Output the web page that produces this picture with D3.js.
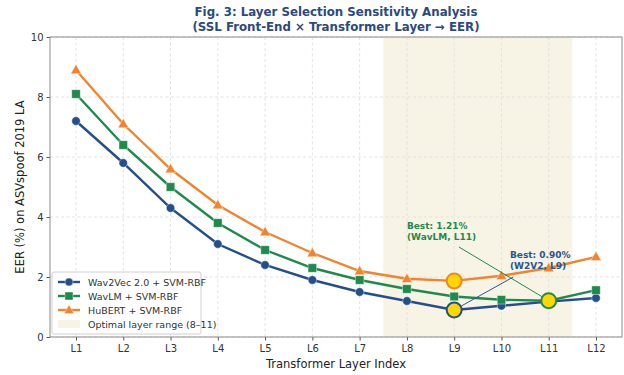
<!DOCTYPE html>
<html>
<head>
<meta charset="utf-8">
<script src="https://cdn.jsdelivr.net/npm/d3@7"></script>
<style>
  body { margin: 0; background: #fff; }
  svg { font-family: "DejaVu Sans", sans-serif; }
</style>
</head>
<body>
<svg id="chart" width="624" height="375"></svg>
<script>
// data
const layers = ['L1', 'L2', 'L3', 'L4', 'L5', 'L6', 'L7', 'L8', 'L9', 'L10', 'L11', 'L12'];
const wav2vec = [7.2, 5.8, 4.3, 3.1, 2.4, 1.9, 1.5, 1.2, 0.9, 1.04, 1.18, 1.3];
const wavlm = [8.1, 6.4, 5.0, 3.8, 2.9, 2.3, 1.9, 1.6, 1.35, 1.24, 1.21, 1.56];
const hubert = [8.9, 7.1, 5.6, 4.4, 3.5, 2.8, 2.2, 1.94, 1.87, 2.04, 2.3, 2.67];
const yTicks = [0, 2, 4, 6, 8, 10];
const optimalRange = [7.5, 11.5];

const series = [
  { name: 'Wav2Vec 2.0 + SVM-RBF', values: wav2vec, color: '#244f8c', marker: 'circle' },
  { name: 'WavLM + SVM-RBF', values: wavlm, color: '#1e8a4c', marker: 'square' },
  { name: 'HuBERT + SVM-RBF', values: hubert, color: '#f0852d', marker: 'triangle' }
];

// annotations: text anchor and line start in data units
const notes = [
  { lines: ['Best: 1.21%', '(WavLM, L11)'], color: '#1e8a4c', tx: 8.0, ty: 3.6, lx: 9.1, ly: 3.0, px: 11, py: 1.21 },
  { lines: ['Best: 0.90%', '(W2V2, L9)'], color: '#2a5590', tx: 10.18, ty: 2.65, lx: 10.25, ly: 2.0, px: 9, py: 0.9 }
];

const shade = '#f8f4e5';

const svg = d3.select('#chart');
const margin = { top: 37, right: 2, bottom: 38, left: 50 };
const width = 624 - margin.left - margin.right;
const height = 375 - margin.top - margin.bottom;

const x = d3.scaleLinear().domain([0.45, 12.55]).range([0, width]);
const y = d3.scaleLinear().domain([0, 10]).range([height, 0]);

const g = svg.append('g').attr('transform', `translate(${margin.left},${margin.top})`);

// shaded optimal range
g.append('rect')
  .attr('x', x(optimalRange[0]))
  .attr('y', 0)
  .attr('width', x(optimalRange[1]) - x(optimalRange[0]))
  .attr('height', height)
  .attr('fill', shade);

// grid
g.append('g')
  .selectAll('line')
  .data(layers)
  .join('line')
  .attr('x1', (d, i) => x(i + 1))
  .attr('x2', (d, i) => x(i + 1))
  .attr('y1', 0)
  .attr('y2', height)
  .attr('stroke', '#dcdcdc')
  .attr('stroke-width', 0.8)
  .attr('stroke-dasharray', '3,2.5');

g.append('g')
  .selectAll('line')
  .data(yTicks)
  .join('line')
  .attr('x1', 0)
  .attr('x2', width)
  .attr('y1', d => y(d))
  .attr('y2', d => y(d))
  .attr('stroke', '#dcdcdc')
  .attr('stroke-width', 0.8)
  .attr('stroke-dasharray', '3,2.5');

// axes
const xAxis = g.append('g')
  .attr('transform', `translate(0,${height})`)
  .call(d3.axisBottom(x).tickValues(d3.range(1, 13)).tickFormat(d => layers[d - 1]).tickSize(3.5).tickPadding(4));

const yAxis = g.append('g')
  .call(d3.axisLeft(y).tickValues(yTicks).tickSize(3.5).tickPadding(3));

[xAxis, yAxis].forEach(a => {
  a.select('.domain').remove();
  a.selectAll('line').attr('stroke', '#555');
  a.selectAll('text').attr('fill', '#333').attr('font-size', 10).attr('font-family', '"DejaVu Sans", sans-serif');
});

// frame
g.append('rect')
  .attr('width', width)
  .attr('height', height)
  .attr('fill', 'none')
  .attr('stroke', '#8a8a8a')
  .attr('stroke-width', 1);

// series lines and markers
const line = d3.line().x((d, i) => x(i + 1)).y(d => y(d));

function drawMarker(sel, type, color, size) {
  if (type === 'circle') {
    sel.append('circle').attr('r', size / 2);
  } else if (type === 'square') {
    sel.append('rect').attr('x', -size / 2).attr('y', -size / 2).attr('width', size).attr('height', size);
  } else {
    const s = size * 0.62;
    sel.append('path').attr('d', `M0,${-s * 1.05} L${s},${s * 0.7} L${-s},${s * 0.7} Z`);
  }
  sel.selectAll('*').attr('fill', color).attr('stroke', 'rgba(255,255,255,0.5)').attr('stroke-width', 0.8);
}

series.forEach(s => {
  g.append('path')
    .datum(s.values)
    .attr('d', line)
    .attr('fill', 'none')
    .attr('stroke', s.color)
    .attr('stroke-width', 2.4);

  g.append('g')
    .selectAll('g')
    .data(s.values)
    .join('g')
    .attr('transform', (d, i) => `translate(${x(i + 1)},${y(d)})`)
    .each(function () { drawMarker(d3.select(this), s.marker, s.color, 8.5); });
});

// highlight minimum of each series
series.forEach(s => {
  const minV = d3.min(s.values);
  const idx = s.values.indexOf(minV);
  g.append('circle')
    .attr('cx', x(idx + 1))
    .attr('cy', y(minV))
    .attr('r', 7.5)
    .attr('fill', '#ffd700')
    .attr('stroke', s.color)
    .attr('stroke-width', 2);
});

// annotations
notes.forEach(n => {
  const x1 = x(n.lx), y1 = y(n.ly), x2 = x(n.px), y2 = y(n.py);
  const len = Math.hypot(x2 - x1, y2 - y1);
  const shrink = 8;
  g.append('line')
    .attr('x1', x1)
    .attr('y1', y1)
    .attr('x2', x2 - (x2 - x1) / len * shrink)
    .attr('y2', y2 - (y2 - y1) / len * shrink)
    .attr('stroke', n.color)
    .attr('stroke-width', 1);

  const t = g.append('text')
    .attr('x', x(n.tx))
    .attr('y', y(n.ty))
    .attr('fill', n.color)
    .attr('font-size', 9)
    .attr('font-weight', 'bold');
  n.lines.forEach((l, i) => {
    t.append('tspan').attr('x', x(n.tx)).attr('dy', i === 0 ? 0 : 11).text(l);
  });
});

// legend
const legend = g.append('g').attr('transform', 'translate(2,235)');
legend.append('rect')
  .attr('width', 149)
  .attr('height', 62)
  .attr('rx', 2)
  .attr('fill', 'rgba(255,255,255,0.85)')
  .attr('stroke', '#d0d0d0');

series.forEach((s, i) => {
  const row = legend.append('g').attr('transform', `translate(6,${10 + i * 14})`);
  row.append('line').attr('x1', 0).attr('x2', 22).attr('stroke', s.color).attr('stroke-width', 2.4);
  const m = row.append('g').attr('transform', 'translate(11,0)');
  drawMarker(m, s.marker, s.color, 8);
  row.append('text')
    .attr('x', 30)
    .attr('y', 3.5)
    .attr('font-size', 9.5)
    .attr('fill', '#333')
    .text(s.name);
});

const shadeRow = legend.append('g').attr('transform', `translate(6,${10 + 3 * 14})`);
shadeRow.append('rect').attr('x', 0).attr('y', -4).attr('width', 22).attr('height', 8).attr('fill', shade);
shadeRow.append('text')
  .attr('x', 30)
  .attr('y', 3.5)
  .attr('font-size', 9.5)
  .attr('fill', '#333')
  .text('Optimal layer range (8–11)');

// axis labels
svg.append('text')
  .attr('x', margin.left + width / 2)
  .attr('y', 368)
  .attr('text-anchor', 'middle')
  .attr('font-size', 11.5)
  .attr('fill', '#222')
  .text('Transformer Layer Index');

svg.append('text')
  .attr('transform', `translate(24,${margin.top + height / 2}) rotate(-90)`)
  .attr('text-anchor', 'middle')
  .attr('font-size', 11.5)
  .attr('fill', '#222')
  .text('EER (%) on ASVspoof 2019 LA');

// title
const title = svg.append('text')
  .attr('text-anchor', 'middle')
  .attr('font-size', 11.8)
  .attr('font-weight', 'bold')
  .attr('fill', '#2b4a7f');
title.append('tspan').attr('x', margin.left + width / 2).attr('y', 16).text('Fig. 3: Layer Selection Sensitivity Analysis');
title.append('tspan').attr('x', margin.left + width / 2).attr('y', 31).text('(SSL Front-End × Transformer Layer → EER)');
</script>
</body>
</html>
